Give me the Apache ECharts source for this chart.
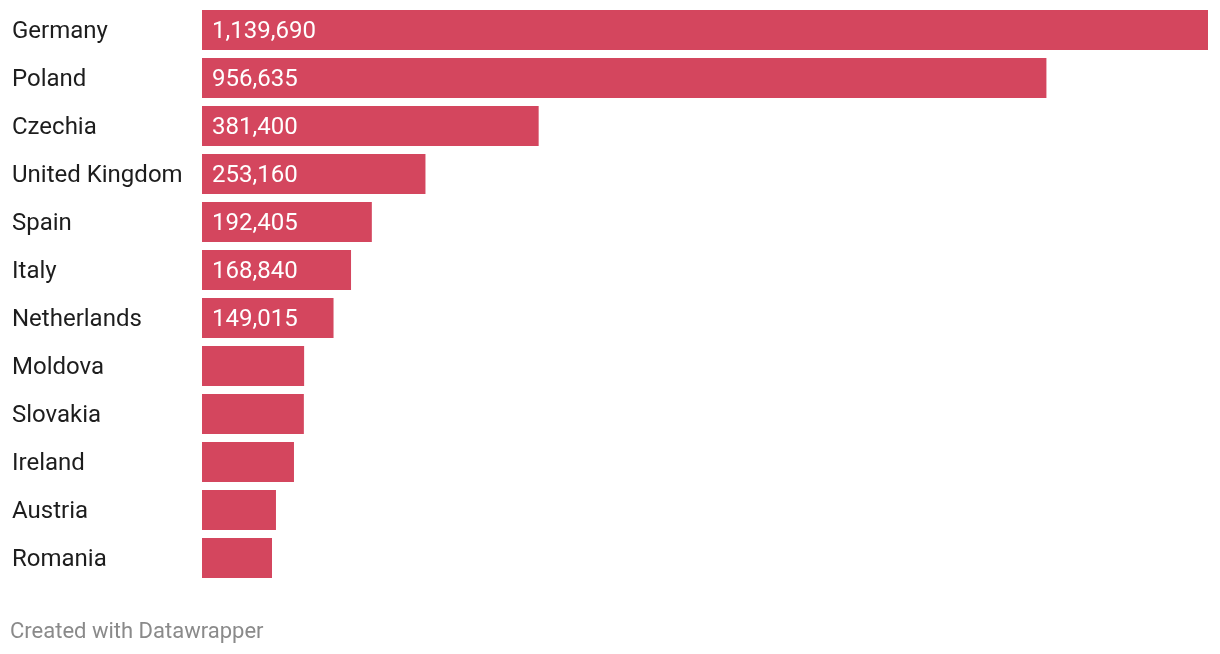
<!DOCTYPE html>
<html>
<head>
<meta charset="utf-8">
<script src="https://cdn.jsdelivr.net/npm/echarts@6/dist/echarts.min.js"></script>
<style>
html,body{margin:0;padding:0;background:#fff;}
#chart{width:1220px;height:654px;}
</style>
</head>
<body>
<div id="chart"></div>
<script>
const countries = ["Germany","Poland","Czechia","United Kingdom","Spain","Italy","Netherlands","Moldova","Slovakia","Ireland","Austria","Romania"];
const refugees = [1139690,956635,381400,253160,192405,168840,149015,115700,115400,104200,83800,79300];
const labelThreshold = 140000;

const chart = echarts.init(document.getElementById('chart'));
chart.setOption({
  animation:false,
  backgroundColor:'#ffffff',
  grid:{left:202,right:12,top:6,bottom:72},
  xAxis:{type:'value',min:0,max:1139690,show:false},
  yAxis:{
    type:'category',
    data:countries,
    inverse:true,
    axisLine:{show:false},
    axisTick:{show:false},
    axisLabel:{
      align:'left',
      margin:190,
      formatter:function(v){return '{c|' + v + '}';},
      rich:{
        c:{color:'#1d1d1d',fontFamily:'Roboto',fontSize:24,padding:[4,0,0,0]}
      }
    }
  },
  series:[{
    type:'bar',
    data:refugees,
    barWidth:40,
    itemStyle:{color:'#d4465e'},
    label:{
      show:true,
      position:'insideLeft',
      distance:10,
      offset:[0,2],
      color:'#ffffff',
      fontFamily:'Roboto',
      fontSize:24,
      formatter:function(p){return p.value>labelThreshold ? p.value.toLocaleString('en-US') : '';}
    }
  }],
  graphic:[{
    type:'text',
    left:10,
    top:621,
    style:{text:'Created with Datawrapper',fill:'#8a8a8a',font:'22px Roboto'}
  }]
});
</script>
</body>
</html>
